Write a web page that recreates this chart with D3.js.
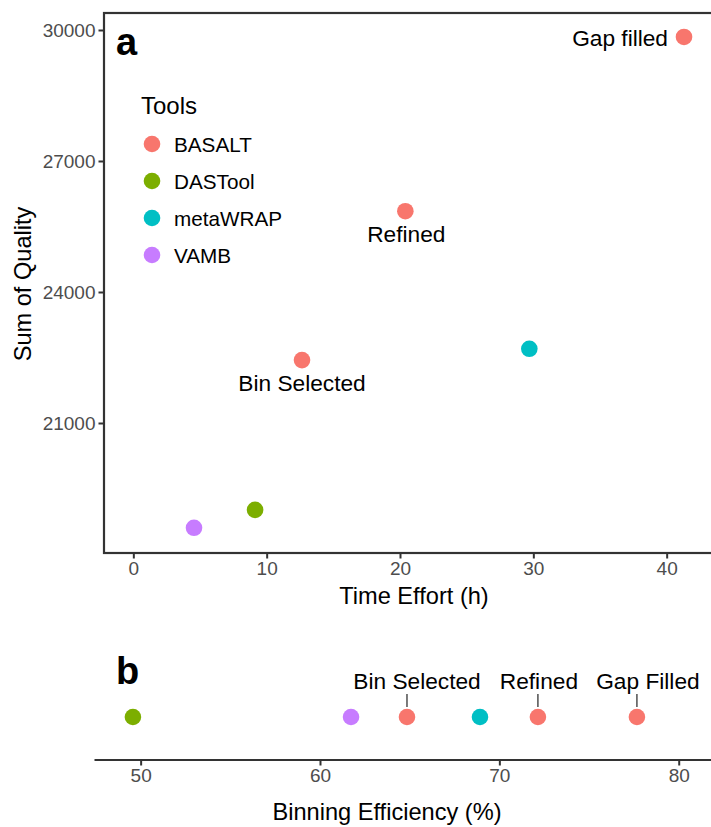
<!DOCTYPE html>
<html>
<head>
<meta charset="utf-8">
<script src="https://cdn.jsdelivr.net/npm/d3@7"></script>
<style>
  body { margin: 0; background: #fff; }
  svg { display: block; font-family: "Liberation Sans", Arial, sans-serif; }
</style>
</head>
<body>
<svg id="chart" width="711" height="827"></svg>
<script>
// ─── Data ────────────────────────────────────────────────────────────────────

const toolNames = ["BASALT", "DASTool", "metaWRAP", "VAMB"];
const toolColors = ["#F8766D", "#7CAE00", "#00BFC4", "#C77CFF"];

// panel a: time effort vs sum of quality
const toolsA = ["VAMB", "DASTool", "BASALT", "BASALT", "metaWRAP", "BASALT"];
const timeEffort = [4.55, 9.13, 12.65, 20.4, 29.7, 41.3];
const sumQuality = [18600, 19010, 22440, 25850, 22700, 29840];
const labelsA = ["", "", "Bin Selected", "Refined", "", "Gap filled"];

// panel b: binning efficiency
const toolsB = ["DASTool", "VAMB", "BASALT", "metaWRAP", "BASALT", "BASALT"];
const binEfficiency = [49.57, 61.73, 64.85, 68.92, 72.15, 77.67];
const labelsB = ["", "", "Bin Selected", "", "Refined", "Gap Filled"];

const ticksA_x = [0, 10, 20, 30, 40];
const ticksA_y = [21000, 24000, 27000, 30000];
const ticksB_x = [50, 60, 70, 80];

// label placement (px offsets from the point, like ggrepel gave)
const labelPosA = {
    "Bin Selected": { dx: 0, dy: 31, anchor: "middle" },
    "Refined": { dx: 1, dy: 31, anchor: "middle" },
    "Gap filled": { dx: -16, dy: 9, anchor: "end" }
};
const labelPosB = {
    "Bin Selected": { dx: 10 },
    "Refined": { dx: 1 },
    "Gap Filled": { dx: 11 }
};

// ─── Setup ───────────────────────────────────────────────────────────────────

const svg = d3.select("#chart");
const color = d3.scaleOrdinal().domain(toolNames).range(toolColors);

const axisCol = "#333333";
const tickTextCol = "#4D4D4D";
const ptR = 8.3;
const tickFont = "19px";
const titleFont = "23.6px";

// ─── Panel a ─────────────────────────────────────────────────────────────────

const ax = d3.scaleLinear().domain([-2.2, 43.4]).range([104, 712]);
const ay = d3.scaleLinear().domain([18023, 30389]).range([553, 13]);

const gA = svg.append("g");

gA.append("rect")
    .attr("x", ax.range()[0])
    .attr("y", ay.range()[1])
    .attr("width", ax.range()[1] - ax.range()[0] + 4)
    .attr("height", ay.range()[0] - ay.range()[1])
    .attr("fill", "none")
    .attr("stroke", axisCol)
    .attr("stroke-width", 2.2);

const xAxisA = d3.axisBottom(ax).tickValues(ticksA_x).tickFormat(d3.format("d"))
    .tickSize(5.5).tickPadding(3).tickSizeOuter(0);
const yAxisA = d3.axisLeft(ay).tickValues(ticksA_y).tickFormat(d3.format("d"))
    .tickSize(5.5).tickPadding(3).tickSizeOuter(0);

gA.append("g")
    .attr("transform", `translate(0,${ay.range()[0]})`)
    .call(xAxisA)
    .call(g => g.select(".domain").remove());

gA.append("g")
    .attr("transform", `translate(${ax.range()[0]},0)`)
    .call(yAxisA)
    .call(g => g.select(".domain").remove());

gA.selectAll(".tick line").attr("stroke", axisCol).attr("stroke-width", 2);
gA.selectAll(".tick text")
    .attr("fill", tickTextCol)
    .style("font-size", tickFont)
    .style("font-family", "Liberation Sans, Arial, sans-serif");

gA.append("text")
    .attr("x", 414)
    .attr("y", 604)
    .attr("text-anchor", "middle")
    .style("font-size", titleFont)
    .text("Time Effort (h)");

gA.append("text")
    .attr("transform", "translate(31,284) rotate(-90)")
    .attr("text-anchor", "middle")
    .style("font-size", titleFont)
    .text("Sum of Quality");

gA.append("text")
    .attr("x", 116)
    .attr("y", 55)
    .style("font-size", "38px")
    .style("font-weight", "bold")
    .text("a");

const dataA = toolsA.map((t, i) => ({ tool: t, x: timeEffort[i], y: sumQuality[i], label: labelsA[i] }));

gA.selectAll("circle.pt")
    .data(dataA)
    .join("circle")
    .attr("class", "pt")
    .attr("cx", d => ax(d.x))
    .attr("cy", d => ay(d.y))
    .attr("r", ptR)
    .attr("fill", d => color(d.tool));

gA.selectAll("text.lbl")
    .data(dataA.filter(d => d.label))
    .join("text")
    .attr("class", "lbl")
    .attr("x", d => ax(d.x) + labelPosA[d.label].dx)
    .attr("y", d => ay(d.y) + labelPosA[d.label].dy)
    .attr("text-anchor", d => labelPosA[d.label].anchor)
    .style("font-size", "22.7px")
    .text(d => d.label);

// legend
const leg = gA.append("g").attr("transform", "translate(141,0)");
leg.append("text")
    .attr("x", 0)
    .attr("y", 114)
    .style("font-size", "24px")
    .text("Tools");

const legItems = leg.selectAll("g.item")
    .data(toolNames)
    .join("g")
    .attr("class", "item")
    .attr("transform", (d, i) => `translate(0,${144 + i * 37})`);

legItems.append("circle")
    .attr("cx", 11)
    .attr("cy", 0)
    .attr("r", ptR)
    .attr("fill", d => color(d));

legItems.append("text")
    .attr("x", 33)
    .attr("y", 7.5)
    .style("font-size", "20.7px")
    .text(d => d);

// ─── Panel b ─────────────────────────────────────────────────────────────────

const bx = d3.scaleLinear().domain([47.4, 81.8]).range([94, 711]);
const axisY_B = 759.5;
const pointY_B = 717;

const gB = svg.append("g");

const xAxisB = d3.axisBottom(bx).tickValues(ticksB_x).tickFormat(d3.format("d"))
    .tickSize(6).tickPadding(3).tickSizeOuter(0);
gB.append("g")
    .attr("transform", `translate(0,${axisY_B})`)
    .call(xAxisB)
    .call(g => g.select(".domain").attr("stroke", axisCol).attr("stroke-width", 2.2));

gB.selectAll(".tick line").attr("stroke", axisCol).attr("stroke-width", 2);
gB.selectAll(".tick text")
    .attr("fill", tickTextCol)
    .style("font-size", tickFont)
    .style("font-family", "Liberation Sans, Arial, sans-serif");

gB.append("text")
    .attr("x", 387)
    .attr("y", 820)
    .attr("text-anchor", "middle")
    .style("font-size", titleFont)
    .text("Binning Efficiency (%)");

gB.append("text")
    .attr("x", 116)
    .attr("y", 684)
    .style("font-size", "38px")
    .style("font-weight", "bold")
    .text("b");

const dataB = toolsB.map((t, i) => ({ tool: t, x: binEfficiency[i], label: labelsB[i] }));

gB.selectAll("line.seg")
    .data(dataB.filter(d => d.label))
    .join("line")
    .attr("class", "seg")
    .attr("x1", d => bx(d.x))
    .attr("x2", d => bx(d.x))
    .attr("y1", 694)
    .attr("y2", 707)
    .attr("stroke", axisCol)
    .attr("stroke-width", 1.3);

gB.selectAll("circle.pt")
    .data(dataB)
    .join("circle")
    .attr("class", "pt")
    .attr("cx", d => bx(d.x))
    .attr("cy", pointY_B)
    .attr("r", ptR)
    .attr("fill", d => color(d.tool));

gB.selectAll("text.lbl")
    .data(dataB.filter(d => d.label))
    .join("text")
    .attr("class", "lbl")
    .attr("x", d => bx(d.x) + labelPosB[d.label].dx)
    .attr("y", 689)
    .attr("text-anchor", "middle")
    .style("font-size", "22.7px")
    .text(d => d.label);
</script>
</body>
</html>
